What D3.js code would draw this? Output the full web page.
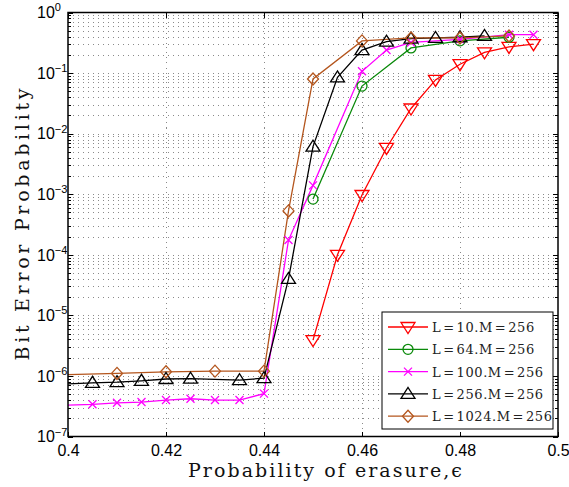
<!DOCTYPE html>
<html>
<head>
<meta charset="utf-8">
<script src="https://cdn.jsdelivr.net/npm/d3@7/dist/d3.min.js"></script>
<style>
body { margin: 0; background: #fff; }
svg { display: block; }
.grid line { stroke: #8a8a8a; stroke-width: 1; stroke-dasharray: 1,4; shape-rendering: crispEdges; }
.tick line { stroke: #000; shape-rendering: crispEdges; }
.tickLbl { font-family: "Liberation Sans", Arial, sans-serif; fill: #000; }
</style>
</head>
<body>
<script>
"use strict";

const CHART_WIDTH = 569;
const CHART_HEIGHT = 487;
const SERIF = '"DejaVu Serif", "Liberation Serif", serif';

// values
const xs10 = [0.45, 0.455, 0.46, 0.465, 0.47, 0.475, 0.48, 0.485, 0.49, 0.495];
const ber10 = [3.9e-6, 1.0e-4, 9.7e-4, 5.8e-3, 0.026, 0.077, 0.14, 0.22, 0.27, 0.30];

const xs64 = [0.45, 0.46, 0.47, 0.48, 0.49];
const ber64 = [8.3e-4, 0.061, 0.26, 0.34, 0.39];

const xs100 = [0.4, 0.405, 0.41, 0.415, 0.42, 0.425, 0.43, 0.435, 0.44, 0.445, 0.45, 0.46, 0.465, 0.47, 0.48, 0.49, 0.495];
const ber100 = [3.3e-7, 3.4e-7, 3.6e-7, 3.7e-7, 4.0e-7, 4.2e-7, 4.0e-7, 4.0e-7, 5.1e-7, 1.75e-4, 1.4e-3, 0.107, 0.24, 0.32, 0.36, 0.43, 0.43];

const xs256 = [0.4, 0.405, 0.41, 0.415, 0.42, 0.425, 0.435, 0.44, 0.445, 0.45, 0.455, 0.46, 0.465, 0.47, 0.475, 0.48, 0.485];
const ber256 = [7.4e-7, 7.7e-7, 7.9e-7, 8.3e-7, 8.9e-7, 9.0e-7, 8.5e-7, 9.2e-7, 4.0e-5, 6.1e-3, 0.085, 0.24, 0.33, 0.37, 0.38, 0.39, 0.41];

const xs1024 = [0.4, 0.41, 0.42, 0.43, 0.44, 0.445, 0.45, 0.46, 0.47, 0.48, 0.49];
const ber1024 = [1.05e-6, 1.1e-6, 1.17e-6, 1.2e-6, 1.2e-6, 5.3e-4, 0.080, 0.34, 0.38, 0.38, 0.41];

const seriesNames = ['L=10.M=256', 'L=64.M=256', 'L=100.M=256', 'L=256.M=256', 'L=1024.M=256'];

const xTicks = [0.4, 0.42, 0.44, 0.46, 0.48, 0.5];
const xTickLabels = ['0.4', '0.42', '0.44', '0.46', '0.48', '0.5'];
const yDecades = [1e-7, 1e-6, 1e-5, 1e-4, 1e-3, 1e-2, 1e-1, 1];
const yExponents = ['\u22127', '\u22126', '\u22125', '\u22124', '\u22123', '\u22122', '\u22121', '0'];

const xTitle = 'Probability of erasure,\u03f5';
const yTitle = 'Bit Error Probability';

const series = [
	{name: seriesNames[0], xs: xs10,   ys: ber10,   color: '#ff0000', marker: 'down'},
	{name: seriesNames[1], xs: xs64,   ys: ber64,   color: '#0a8a0a', marker: 'circle'},
	{name: seriesNames[2], xs: xs100,  ys: ber100,  color: '#ff00ff', marker: 'x'},
	{name: seriesNames[3], xs: xs256,  ys: ber256,  color: '#000000', marker: 'up'},
	{name: seriesNames[4], xs: xs1024, ys: ber1024, color: '#b4561e', marker: 'diamond'}
];

const PL = 68, PR = 558, PT = 12.5, PB = 436.5;

const x = d3.scaleLinear().domain([0.4, 0.5]).range([PL, PR]);
const y = d3.scaleLog().domain([1e-7, 1]).range([PB, PT]);

const svg = d3.select('body').append('svg')
	.attr('width', CHART_WIDTH)
	.attr('height', CHART_HEIGHT);

svg.append('defs').append('clipPath').attr('id', 'plotClip')
	.append('rect')
	.attr('x', PL).attr('y', PT)
	.attr('width', PR - PL).attr('height', PB - PT);

// grid
const groupGrid = svg.append('g').attr('class', 'grid');
const hGrid = y.ticks().filter(v => v > 1e-7 && v < 1);
groupGrid.selectAll('line.h')
	.data(hGrid)
	.join('line')
	.attr('class', 'h')
	.attr('x1', PL).attr('x2', PR)
	.attr('y1', d => Math.round(y(d)) + 0.5)
	.attr('y2', d => Math.round(y(d)) + 0.5);
groupGrid.selectAll('line.v')
	.data(xTicks.slice(1, -1))
	.join('line')
	.attr('class', 'v')
	.attr('x1', d => Math.round(x(d)) + 0.5)
	.attr('x2', d => Math.round(x(d)) + 0.5)
	.attr('y1', PT).attr('y2', PB);

// ticks (inside, all four sides)
const yMinor = y.ticks().filter(v => !yDecades.some(d => Math.abs(d - v) / d < 1e-6));

function noDomain(g){ g.select('.domain').remove(); }

svg.append('g')
	.attr('transform', `translate(0,${PB})`)
	.call(d3.axisBottom(x).tickValues(xTicks).tickFormat((d, i) => xTickLabels[i])
		.tickSizeInner(-5).tickSizeOuter(0).tickPadding(8))
	.call(noDomain)
	.call(g => g.selectAll('text').attr('class', 'tickLbl').style('font-size', '16px').attr('font-family', null));
svg.append('g')
	.attr('transform', `translate(0,${PT})`)
	.call(d3.axisTop(x).tickValues(xTicks).tickFormat('').tickSizeInner(-5).tickSizeOuter(0))
	.call(noDomain);
svg.append('g')
	.attr('transform', `translate(${PL},0)`)
	.call(d3.axisLeft(y).tickValues(yDecades).tickFormat('').tickSizeInner(-5).tickSizeOuter(0))
	.call(noDomain);
svg.append('g')
	.attr('transform', `translate(${PL},0)`)
	.call(d3.axisLeft(y).tickValues(yMinor).tickFormat('').tickSizeInner(-3).tickSizeOuter(0))
	.call(noDomain);
svg.append('g')
	.attr('transform', `translate(${PR},0)`)
	.call(d3.axisRight(y).tickValues(yDecades).tickFormat('').tickSizeInner(-5).tickSizeOuter(0))
	.call(noDomain);
svg.append('g')
	.attr('transform', `translate(${PR},0)`)
	.call(d3.axisRight(y).tickValues(yMinor).tickFormat('').tickSizeInner(-3).tickSizeOuter(0))
	.call(noDomain);

// y tick labels 10^k
const yLbl = svg.append('g').selectAll('text')
	.data(yDecades)
	.join('text')
	.attr('class', 'tickLbl')
	.attr('x', 37)
	.attr('y', d => y(d) + 5.8)
	.style('font-size', '16px');
yLbl.append('tspan').text('10');
yLbl.append('tspan')
	.attr('dy', -6.8)
	.style('font-size', '11px')
	.text((d, i) => yExponents[i]);

// series
const line = d3.line().x(d => x(d[0])).y(d => y(d[1]));

function markerPath(type){
	switch(type){
		case 'down': return 'M-7,-4.5L7,-4.5L0,6.5Z';
		case 'up': return 'M-7,4.5L7,4.5L0,-6.5Z';
		case 'diamond': return 'M0,-6L5.5,0L0,6L-5.5,0Z';
		case 'x': return 'M-4,-4L4,4M-4,4L4,-4';
		default: return d3.arc()({innerRadius: 0, outerRadius: 5, startAngle: 0, endAngle: 2 * Math.PI});
	}
}

const groupLine = svg.append('g').attr('clip-path', 'url(#plotClip)');
const groupMark = svg.append('g');

series.forEach(s => {
	const pts = s.xs.map((v, i) => [v, s.ys[i]]);
	groupLine.append('path')
		.datum(pts)
		.attr('d', line)
		.attr('fill', 'none')
		.attr('stroke', s.color)
		.attr('stroke-width', 1.3);
	groupMark.append('g').selectAll('path')
		.data(pts.filter(p => p[0] > 0.4))
		.join('path')
		.attr('d', markerPath(s.marker))
		.attr('transform', d => `translate(${x(d[0])},${y(d[1])})`)
		.attr('fill', 'none')
		.attr('stroke', s.color)
		.attr('stroke-width', 1.3);
});

// frame
svg.append('rect')
	.attr('x', PL).attr('y', PT)
	.attr('width', PR - PL).attr('height', PB - PT)
	.attr('fill', 'none')
	.attr('stroke', '#000')
	.attr('stroke-width', 1.5);

// legend
const LW = 171, LH = 117;
const lx = PR - 5 - LW, ly = PB - 7.5 - LH;
const legend = svg.append('g').attr('transform', `translate(${lx},${ly})`);
legend.append('rect')
	.attr('width', LW).attr('height', LH)
	.attr('fill', '#fff')
	.attr('stroke', '#000')
	.attr('stroke-width', 1);
const rows = legend.selectAll('g.row')
	.data(series)
	.join('g')
	.attr('class', 'row')
	.attr('transform', (d, i) => `translate(0,${15 + i * 22.3})`);
rows.append('line')
	.attr('x1', 6).attr('x2', 46)
	.attr('stroke', d => d.color)
	.attr('stroke-width', 1.3);
rows.append('path')
	.attr('d', d => markerPath(d.marker))
	.attr('transform', 'translate(26,0)')
	.attr('fill', 'none')
	.attr('stroke', d => d.color)
	.attr('stroke-width', 1.3);
rows.append('text')
	.attr('x', 50)
	.attr('y', 5)
	.style('font-family', SERIF)
	.style('font-size', '13px')
	.style('fill', '#222')
	.style('letter-spacing', '0.6px')
	.text(d => d.name.replace(/=/g, '\u200a=\u200a'));

// axis titles
svg.append('text')
	.attr('x', 325).attr('y', 477)
	.attr('text-anchor', 'middle')
	.attr('textLength', 274)
	.attr('lengthAdjust', 'spacing')
	.style('font-family', SERIF)
	.style('font-size', '19px')
	.style('fill', '#111')
	.text(xTitle);

svg.append('text')
	.attr('transform', `translate(29,${(PT + PB) / 2}) rotate(-90)`)
	.attr('text-anchor', 'middle')
	.attr('textLength', 272)
	.attr('lengthAdjust', 'spacing')
	.style('font-family', SERIF)
	.style('font-size', '19px')
	.style('fill', '#111')
	.text(yTitle);
</script>
</body>
</html>
